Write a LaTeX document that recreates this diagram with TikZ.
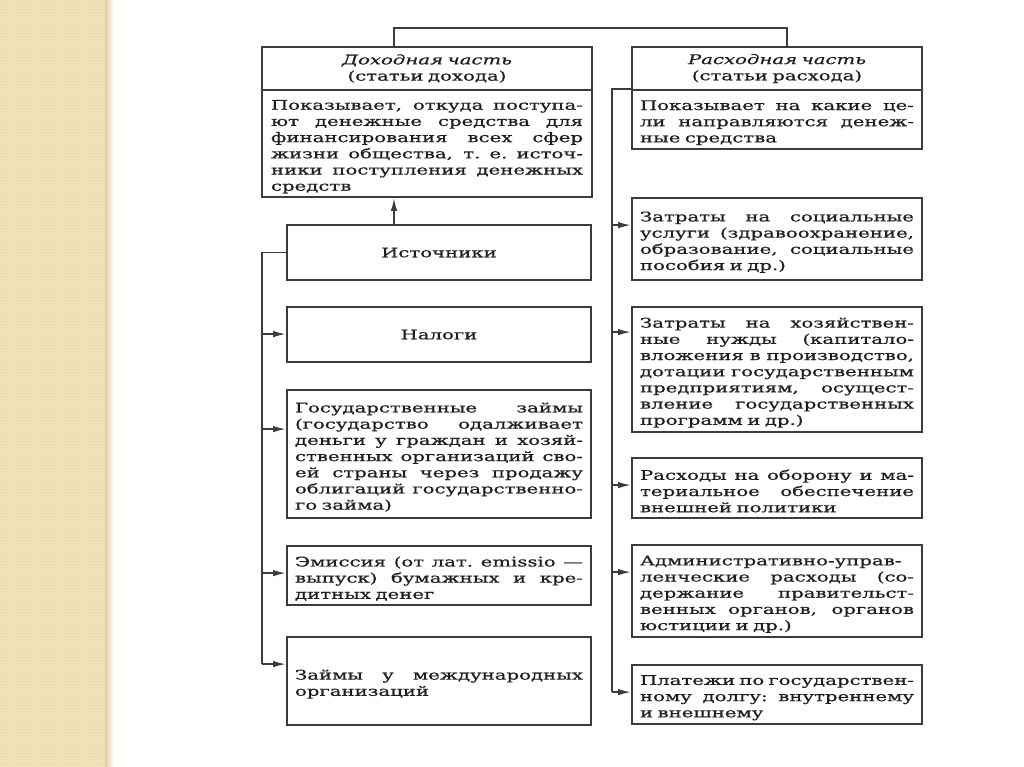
\documentclass[tikz,border=0pt]{standalone}
\usepackage{fontspec}
\setmainfont{DejaVu Serif}[FakeStretch=1.48,FakeBold=0.7]
\usetikzlibrary{arrows.meta,patterns}
\definecolor{ink}{RGB}{30,30,30}
\definecolor{rulegray}{RGB}{60,60,60}
\definecolor{paper}{RGB}{243,228,186}
\definecolor{paperdk}{RGB}{226,208,158}
% one justified line, and the closing line of a paragraph
\newcommand\jline[1]{\par\noindent\hbox to\hsize{\spaceskip=.3em plus 1fil\xspaceskip=.3em plus 1fil #1}}
\newcommand\lastline[1]{\par\noindent\hbox to\hsize{#1\hfil}}
\begin{document}
\begin{tikzpicture}[x=1pt,y=-1pt,
    box/.style={draw=rulegray, line width=1.8pt, text=ink, inner xsep=8pt, inner ysep=0pt,
      font=\fontsize{13.3}{16.2}\selectfont},
    lbox/.style={box, text width=288pt},
    rbox/.style={box, text width=274pt},
    link/.style={draw=rulegray, line width=1.8pt},
    arr/.style={link, -{Latex[length=13pt,width=6.5pt]}}]
    \useasboundingbox (0,0) rectangle (1024,767);
    \fill[white] (0,0) rectangle (1024,767);
    \fill[paper] (0,0) rectangle (107,767);
    \fill[pattern=crosshatch dots, pattern color=paperdk] (0,0) rectangle (107,767);
    \shade[left color=paperdk, right color=white] (105,0) rectangle (114,767);

    % headers
    \node[box, text width=312pt, inner xsep=9pt, minimum height=43pt, align=center] (inchead) at (427,68.5)
        {\textit{Доходная часть}\\(статьи дохода)};
    \node[box, text width=312pt, inner xsep=9pt, minimum height=107pt] (incbody) at (427,143.5)
        {\jline{Показывает, откуда поступа-}\jline{ют денежные средства для}\jline{финансирования всех сфер}%
         \jline{жизни общества, т. е. источ-}\jline{ники поступления денежных}\lastline{средств}};
    \node[rbox, minimum height=43pt, align=center] (exphead) at (777,68.5)
        {\textit{Расходная часть}\\(статьи расхода)};
    \node[rbox, minimum height=59pt] (expbody) at (777,119.5)
        {\jline{Показывает на какие це-}\jline{ли направляются денеж-}\lastline{ные средства}};

    % income side
    \node[lbox, minimum height=55pt, align=center] (src) at (439,252.5) {Источники};
    \node[lbox, minimum height=55pt, align=center] (tax) at (439,334.5) {Налоги};
    \node[lbox, minimum height=128pt] (loans) at (439,454)
        {\jline{Государственные займы}\jline{(государство одалживает}\jline{деньги у граждан и хозяй-}%
         \jline{ственных организаций сво-}\jline{ей страны через продажу}\jline{облигаций государственно-}%
         \lastline{го займа)}};
    \node[lbox, minimum height=59pt] (emis) at (439,575.5)
        {\jline{Эмиссия (от лат. emissio —}\jline{выпуск) бумажных и кре-}\lastline{дитных денег}};
    \node[lbox, minimum height=88pt] (intl) at (439,681)
        {\jline{Займы у международных}\lastline{организаций}};

    % expense side
    \node[rbox, minimum height=82pt] (soc) at (777,239)
        {\jline{Затраты на социальные}\jline{услуги (здравоохранение,}\jline{образование, социальные}%
         \lastline{пособия и др.)}};
    \node[rbox, minimum height=125pt] (econ) at (777,369.5)
        {\jline{Затраты на хозяйствен-}\jline{ные нужды (капитало-}\jline{вложения в производство,}%
         \jline{дотации государственным}\jline{предприятиям, осущест-}\jline{вление государственных}%
         \lastline{программ и др.)}};
    \node[rbox, minimum height=60pt] (def) at (777,488)
        {\jline{Расходы на оборону и ма-}\jline{териальное обеспечение}\lastline{внешней политики}};
    \node[rbox, minimum height=92pt] (adm) at (777,591)
        {\jline{Административно-управ-}\jline{ленческие расходы (со-}\jline{держание правительст-}%
         \jline{венных органов, органов}\lastline{юстиции и др.)}};
    \node[rbox, minimum height=59pt] (debt) at (777,694.5)
        {\jline{Платежи по государствен-}\jline{ному долгу: внутреннему}\lastline{и внешнему}};

    % connectors
    \coordinate (tl) at (394,28);
    \coordinate (tr) at (787,28);
    \draw[link] (tl |- inchead.north) -- (tl) -- (tr) -- (tr |- exphead.north);
    \draw[arr] (tl |- src.north) -- (tl |- incbody.south);

    \coordinate (ls) at (262,0);
    \foreach \b/\d in {tax/28pt,loans/40pt,emis/28pt,intl/28pt}
        \coordinate (\b-in) at ([yshift=-\d]\b.north west);
    \draw[link] (src.west) -| (ls |- intl-in);
    \foreach \b in {tax,loans,emis,intl}
        \draw[arr] (ls |- \b-in) -- (\b-in);

    \coordinate (rs) at (612,0);
    \foreach \b/\d in {soc/28pt,econ/26pt,def/28pt,adm/28pt,debt/28pt}
        \coordinate (\b-in) at ([yshift=-\d]\b.north west);
    \draw[link] (expbody.north west) -| (rs |- debt-in);
    \foreach \b in {soc,econ,def,adm,debt}
        \draw[arr] (rs |- \b-in) -- (\b-in);
\end{tikzpicture}
\end{document}
